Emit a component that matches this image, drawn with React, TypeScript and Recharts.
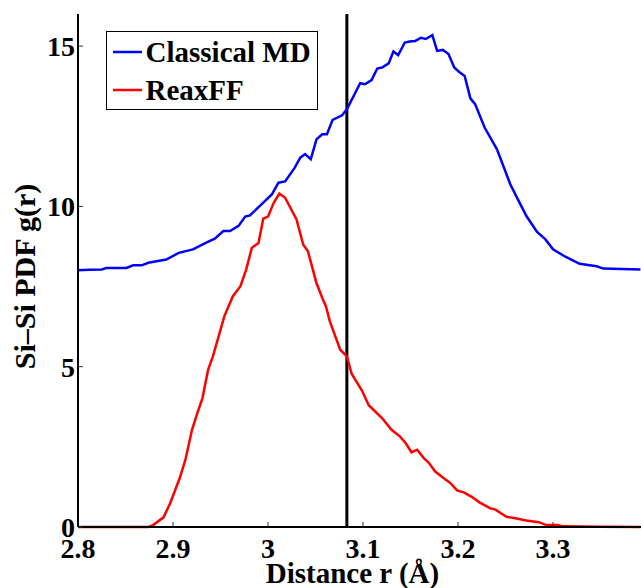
import React from 'react'
import { LineChart, Line, XAxis, YAxis, ReferenceLine, Legend } from 'recharts'

// Si-Si pair distribution function
const classicalR = [
  2.8, 2.812, 2.825, 2.83, 2.851, 2.858, 2.867, 2.874, 2.893, 2.906, 2.921, 2.935, 2.944, 2.953, 2.96,
  2.969, 2.976, 2.981, 2.992, 3.004, 3.011, 3.018, 3.028, 3.034, 3.039, 3.045, 3.051, 3.057, 3.062,
  3.068, 3.078, 3.083, 3.092, 3.097, 3.102, 3.109, 3.115, 3.12, 3.127, 3.132, 3.137, 3.144, 3.149,
  3.155, 3.161, 3.166, 3.173, 3.178, 3.184, 3.19, 3.196, 3.201, 3.207, 3.213, 3.218, 3.228, 3.241,
  3.255, 3.263, 3.272, 3.283, 3.292, 3.3, 3.313, 3.328, 3.346, 3.353, 3.392,
]
const classicalG = [
  8.01, 8.02, 8.03, 8.08, 8.08, 8.16, 8.16, 8.24, 8.34, 8.55, 8.66, 8.87, 8.99, 9.23, 9.23,
  9.39, 9.68, 9.72, 10.03, 10.37, 10.74, 10.78, 11.2, 11.52, 11.63, 11.47, 12.09, 12.25, 12.25,
  12.7, 12.84, 13.03, 13.55, 13.84, 13.81, 13.94, 14.3, 14.33, 14.46, 14.83, 14.72, 15.11, 15.14,
  15.16, 15.26, 15.22, 15.34, 14.85, 14.88, 14.75, 14.33, 14.2, 14.07, 13.37, 13.19, 12.46, 11.78,
  10.69, 10.22, 9.7, 9.21, 8.97, 8.66, 8.43, 8.21, 8.13, 8.06, 8.03,
]

const reaxR = [
  2.8, 2.874, 2.879, 2.89, 2.897, 2.907, 2.913, 2.92, 2.925, 2.931, 2.937, 2.942, 2.954, 2.963, 2.971,
  2.977, 2.983, 2.99, 2.995, 3.0, 3.006, 3.012, 3.018, 3.03, 3.037, 3.042, 3.051, 3.057, 3.061, 3.065,
  3.076, 3.083, 3.088, 3.099, 3.106, 3.12, 3.13, 3.139, 3.145, 3.151, 3.157, 3.164, 3.169, 3.176,
  3.185, 3.192, 3.199, 3.206, 3.214, 3.223, 3.234, 3.239, 3.251, 3.263, 3.272, 3.285, 3.293, 3.304,
  3.311, 3.349, 3.392,
]
const reaxG = [
  0, 0, 0.06, 0.3, 0.74, 1.52, 2.09, 3.03, 3.5, 4.02, 4.91, 5.32, 6.57, 7.2, 7.51,
  8.03, 8.71, 8.86, 9.62, 9.68, 10.11, 10.4, 10.27, 9.59, 8.81, 8.6, 7.61, 7.15, 6.88, 6.42,
  5.53, 5.32, 4.78, 4.25, 3.8, 3.4, 3.03, 2.82, 2.61, 2.33, 2.41, 2.15, 2.01, 1.73,
  1.52, 1.37, 1.14, 1.08, 0.95, 0.76, 0.58, 0.55, 0.32, 0.26, 0.2, 0.15, 0.06, 0.06,
  0.02, 0.01, 0,
]

const xTicks = [2.8, 2.9, 3.0, 3.1, 3.2, 3.3]
const yTicks = [0, 5, 10, 15]
const cutoff = 3.083

const series = [
  { name: 'Classical MD', color: '#0000ff' },
  { name: 'ReaxFF', color: '#ff0000' },
]

const classicalData = classicalR.map((r, i) => ({ r, g: classicalG[i] }))
const reaxData = reaxR.map((r, i) => ({ r, g: reaxG[i] }))

const FONT = '"Liberation Serif", "Times New Roman", serif'
const X_DOMAIN: [number, number] = [2.8, 3.3926]

const tickStyle = { fontFamily: FONT, fontWeight: 'bold', fontSize: 28, fill: '#000' }

function LegendBox() {
  return (
    <div
      style={{
        width: 212,
        height: 79,
        boxSizing: 'border-box',
        border: '1.5px solid #000',
        background: '#fff',
        padding: '1px 0 0 5.5px',
        fontFamily: FONT,
        fontWeight: 'bold',
        fontSize: 29,
        color: '#000',
      }}
    >
      {series.map((s) => (
        <div key={s.name} style={{ display: 'flex', alignItems: 'center', height: 38, lineHeight: '38px' }}>
          <svg width={29} height={4} style={{ display: 'block' }}>
            <line x1={0} y1={2} x2={29} y2={2} stroke={s.color} strokeWidth={2.5} />
          </svg>
          <span style={{ marginLeft: 4, whiteSpace: 'nowrap' }}>{s.name}</span>
        </div>
      ))}
    </div>
  )
}

export default function App() {
  return (
    <div style={{ position: 'fixed', left: 0, top: 0, width: 641, height: 588, overflow: 'hidden', background: '#fff' }}>
      <LineChart width={641} height={588} margin={{ top: 14, right: 0, bottom: 0, left: 0 }}>
        <XAxis
          dataKey="r"
          type="number"
          domain={X_DOMAIN}
          allowDataOverflow
          ticks={xTicks}
          tickFormatter={(v) => String(v)}
          height={61}
          tickSize={-5}
          tickMargin={16}
          interval={0}
          stroke="#000"
          strokeWidth={2}
          tickLine={{ stroke: '#333', strokeWidth: 1 }}
          tick={tickStyle}
          label={{
            content: ({ viewBox }: any) => (
              <text
                x={viewBox.x + viewBox.width / 2 - 7}
                y={viewBox.y + 56}
                textAnchor="middle"
                style={{ fontFamily: FONT, fontWeight: 'bold', fontSize: 29 }}
                fill="#000"
              >
                Distance r (Å)
              </text>
            ),
          }}
        />
        <XAxis
          xAxisId="top"
          orientation="top"
          type="number"
          domain={X_DOMAIN}
          allowDataOverflow
          ticks={xTicks}
          height={0}
          tickSize={-5}
          tick={false}
          stroke="#000"
          strokeWidth={1.5}
          tickLine={{ stroke: '#333', strokeWidth: 1 }}
        />
        <YAxis
          type="number"
          domain={[0, 16]}
          ticks={yTicks}
          width={78}
          tickSize={-5}
          tickMargin={8}
          interval={0}
          stroke="#000"
          strokeWidth={2}
          tickLine={{ stroke: '#333', strokeWidth: 1 }}
          tick={tickStyle}
          label={{
            content: ({ viewBox }: any) => {
              const cx = viewBox.x + 35
              const cy = viewBox.y + viewBox.height / 2 + 6
              return (
                <text
                  x={cx}
                  y={cy}
                  transform={`rotate(-90, ${cx}, ${cy})`}
                  textAnchor="middle"
                  style={{ fontFamily: FONT, fontWeight: 'bold', fontSize: 30 }}
                  fill="#000"
                >
                  Si–Si PDF g(r)
                </text>
              )
            },
          }}
        />
        <Legend
          layout="vertical"
          align="center"
          verticalAlign="middle"
          content={() => <LegendBox />}
          wrapperStyle={{ left: 106, top: 31, width: 212, height: 79 }}
        />
        <ReferenceLine x={cutoff} stroke="#000" strokeWidth={3} />
        <Line
          data={classicalData}
          dataKey="g"
          name="Classical MD"
          type="linear"
          stroke="#0000ff"
          strokeWidth={2.5}
          dot={false}
          isAnimationActive={false}
        />
        <Line
          data={reaxData}
          dataKey="g"
          name="ReaxFF"
          type="linear"
          stroke="#ff0000"
          strokeWidth={2.5}
          dot={false}
          isAnimationActive={false}
        />
      </LineChart>
    </div>
  )
}
